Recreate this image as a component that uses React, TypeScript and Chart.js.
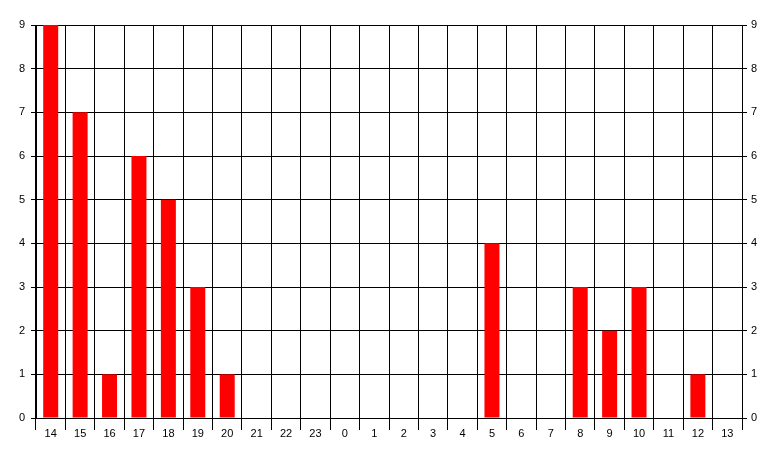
import React, { useEffect, useRef } from "react";
import { Chart, registerables } from "chart.js";

Chart.register(...registerables);

const hours = ["14", "15", "16", "17", "18", "19", "20", "21", "22", "23", "0", "1", "2", "3", "4", "5", "6", "7", "8", "9", "10", "11", "12", "13"];
const counts = [9, 7, 1, 6, 5, 3, 1, 0, 0, 0, 0, 0, 0, 0, 0, 4, 0, 0, 3, 2, 3, 0, 1, 0];
const yMin = 0;
const yMax = 9;

export default function App() {
  const ref = useRef<HTMLCanvasElement | null>(null);
  useEffect(() => {
    if (!ref.current) return;
    const font = { family: "'Liberation Sans', Arial, sans-serif", size: 11 };
    const chart = new Chart(ref.current, {
      type: "bar",
      data: {
        labels: hours,
        datasets: [
          {
            data: counts,
            backgroundColor: "#ff0000",
            borderWidth: 0,
            barPercentage: 0.51,
            categoryPercentage: 1,
          },
        ],
      },
      options: {
        animation: false,
        responsive: false,
        maintainAspectRatio: false,
        layout: { padding: { top: 25, left: 0, right: 0, bottom: 0 } },
        plugins: { legend: { display: false }, tooltip: { enabled: false } },
        scales: {
          x: {
            offset: true,
            grid: {
              offset: true,
              color: "#000",
              lineWidth: 1,
              drawTicks: true,
              tickLength: 12,
              tickColor: "#000",
            },
            border: { color: "#000", width: 1 },
            ticks: { color: "#000", font, padding: -3, maxRotation: 0, autoSkip: false },
            afterFit: (s: any) => {
              s.height = 39;
            },
          },
          y: {
            position: "left",
            min: yMin,
            max: yMax,
            grid: { color: "#000", lineWidth: 1, tickLength: 5, tickColor: "#000" },
            border: { color: "#000", width: 1 },
            ticks: { stepSize: 1, color: "#000", font, padding: 6 },
            afterFit: (s: any) => {
              s.width = 36;
            },
          },
          y2: {
            position: "right",
            min: yMin,
            max: yMax,
            grid: { drawOnChartArea: false, color: "#000", tickLength: 5, tickColor: "#000" },
            border: { color: "#000", width: 1 },
            ticks: { stepSize: 1, color: "#000", font, padding: 4 },
            afterFit: (s: any) => {
              s.width = 35;
            },
          },
        },
      },
    });
    return () => chart.destroy();
  }, []);
  return (
    <div style={{ position: "fixed", left: 0, top: 0, width: 777, height: 457, background: "#fff" }}>
      <canvas ref={ref} width={777} height={457} style={{ width: 777, height: 457 }} />
    </div>
  );
}
